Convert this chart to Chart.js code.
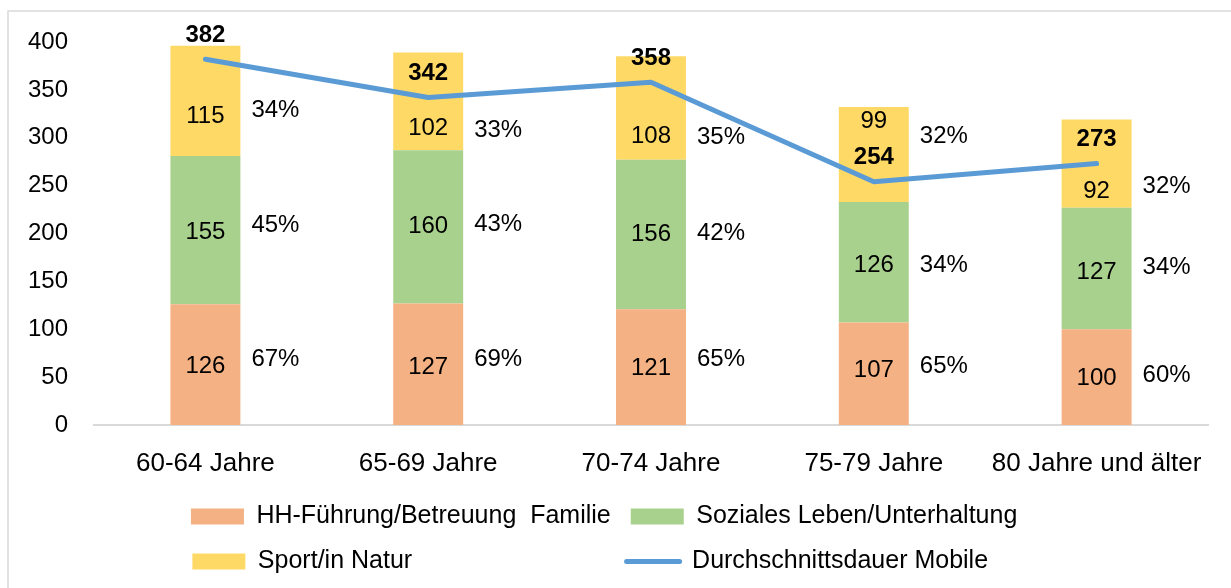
<!DOCTYPE html>
<html><head><meta charset="utf-8">
<script src="https://cdn.jsdelivr.net/npm/chart.js@4.4.0/dist/chart.umd.min.js"></script>
<style>html,body{margin:0;padding:0;background:#fff;overflow:hidden}</style>
</head><body>
<canvas id="c" width="1231" height="588"></canvas>
<script>
// ---- data ----
const categories = ['60-64 Jahre', '65-69 Jahre', '70-74 Jahre', '75-79 Jahre', '80 Jahre und älter'];
const hhFamilie = [126, 127, 121, 107, 100];
const sozialesLeben = [155, 160, 156, 126, 127];
const sportNatur = [115, 102, 108, 99, 92];
const durchschnittMobile = [382, 342, 358, 254, 273];
const pctHH = ['67%', '69%', '65%', '65%', '60%'];
const pctSozial = ['45%', '43%', '42%', '34%', '34%'];
const pctSport = ['34%', '33%', '35%', '32%', '32%'];
const seriesNames = ['HH-Führung/Betreuung  Familie', 'Soziales Leben/Unterhaltung', 'Sport/in Natur', 'Durchschnittsdauer Mobile'];
const yTickValues = [0, 50, 100, 150, 200, 250, 300, 350, 400];

const FONT = '"Liberation Sans", Arial, sans-serif';
const LEGEND_SIZE = 25;

// label placement tweaks (pixels, relative to segment centre)
const valueDy = [[2, 3, 1, -3, 1], [2, 0, 0, 3, 4], [15, 27, 28, -33, 28]];
const pctDy = [[-5, -5, -8, -7, -2], [-5, -2, -1, 3, -1], [9, 29, 29, -18, 23]];
const lineLabelDy = -24;

const measureCtx = document.createElement('canvas').getContext('2d');
measureCtx.font = LEGEND_SIZE + 'px ' + FONT;
function padTo(text, target) {
  let t = text;
  while (measureCtx.measureText(t + ' ').width <= target) t += ' ';
  return t;
}

const borderPlugin = {
  id: 'outerBorder',
  beforeDraw(chart) {
    const ctx = chart.ctx;
    ctx.save();
    ctx.fillStyle = '#fff';
    ctx.fillRect(0, 0, chart.width, chart.height);
    ctx.strokeStyle = '#d9d9d9';
    ctx.lineWidth = 1.5;
    ctx.strokeRect(8, 11, 1400, 800);
    ctx.restore();
  }
};

const labelPlugin = {
  id: 'valueLabels',
  afterDatasetsDraw(chart) {
    const ctx = chart.ctx;
    const pcts = [pctHH, pctSozial, pctSport];
    ctx.save();
    ctx.fillStyle = '#000';
    ctx.textBaseline = 'middle';
    for (let di = 0; di < 3; di++) {
      const meta = chart.getDatasetMeta(di);
      const data = chart.data.datasets[di].data;
      meta.data.forEach((el, i) => {
        const cy = (el.y + el.base) / 2;
        ctx.font = '24px ' + FONT;
        ctx.textAlign = 'center';
        ctx.fillText(String(data[i]), el.x, cy + valueDy[di][i]);
        ctx.textAlign = 'left';
        ctx.fillText(pcts[di][i], el.x + el.width / 2 + 11, cy + pctDy[di][i]);
      });
    }
    const lm = chart.getDatasetMeta(3);
    ctx.font = 'bold 24px ' + FONT;
    ctx.textAlign = 'center';
    lm.data.forEach((pt, i) => {
      ctx.fillText(String(durchschnittMobile[i]), pt.x, pt.y + lineLabelDy);
    });
    ctx.restore();
  }
};

const colors = ['#F4B183', '#A9D18E', '#FFD966', '#5B9BD5'];

new Chart(document.getElementById('c'), {
  type: 'bar',
  data: {
    labels: categories,
    datasets: [
      { label: seriesNames[0], data: hhFamilie, backgroundColor: colors[0], order: 1, stack: 'bars' },
      { label: seriesNames[1], data: sozialesLeben, backgroundColor: colors[1], order: 1, stack: 'bars' },
      { label: seriesNames[2], data: sportNatur, backgroundColor: colors[2], order: 1, stack: 'bars' },
      { type: 'line', label: seriesNames[3], data: durchschnittMobile, borderColor: colors[3], backgroundColor: colors[3],
        borderWidth: 5, pointRadius: 0, pointHoverRadius: 0, tension: 0, borderCapStyle: 'round', borderJoinStyle: 'round',
        order: 0, stack: 'line', fill: false }
    ]
  },
  options: {
    responsive: false,
    animation: false,
    devicePixelRatio: 1,
    layout: { padding: { left: 28, right: 23, top: 42, bottom: 4 } },
    datasets: { bar: { categoryPercentage: 1, barPercentage: 0.314 } },
    scales: {
      x: {
        stacked: true,
        grid: { display: false, drawTicks: false },
        border: { display: true, color: '#d9d9d9', width: 2 },
        ticks: { color: '#000', font: { family: FONT, size: 26 }, padding: 23, maxRotation: 0, autoSkip: false },
        afterFit(scale) { scale.height = 59; }
      },
      y: {
        stacked: true,
        min: 0, max: 400,
        afterBuildTicks(scale) { scale.ticks = yTickValues.map(v => ({ value: v })); },
        grid: { display: false, drawTicks: false },
        border: { display: false },
        ticks: { color: '#000', font: { family: FONT, size: 24 }, padding: 26 },
        afterFit(scale) { scale.width = 66; }
      }
    },
    plugins: {
      tooltip: { enabled: false },
      legend: {
        position: 'bottom',
        sort: (a, b) => a.datasetIndex - b.datasetIndex,
        labels: {
          color: '#000',
          font: { family: FONT, size: LEGEND_SIZE },
          usePointStyle: true,
          pointStyleWidth: 53,
          boxHeight: 16,
          padding: 20,
          generateLabels(chart) {
            const widths = [419, 419, 419, 419];
            return chart.data.datasets.map((ds, i) => {
              const isLine = i === 3;
              return {
                text: padTo(ds.label, widths[i] - 53 - LEGEND_SIZE / 2),
                fillStyle: ds.backgroundColor,
                strokeStyle: isLine ? ds.borderColor : ds.backgroundColor,
                lineWidth: isLine ? 5 : 0,
                lineCap: isLine ? 'round' : 'butt',
                pointStyle: isLine ? 'line' : 'rect',
                fontColor: '#000',
                hidden: false,
                datasetIndex: i
              };
            });
          }
        }
      }
    }
  },
  plugins: [borderPlugin, labelPlugin]
});
</script>
</body></html>
